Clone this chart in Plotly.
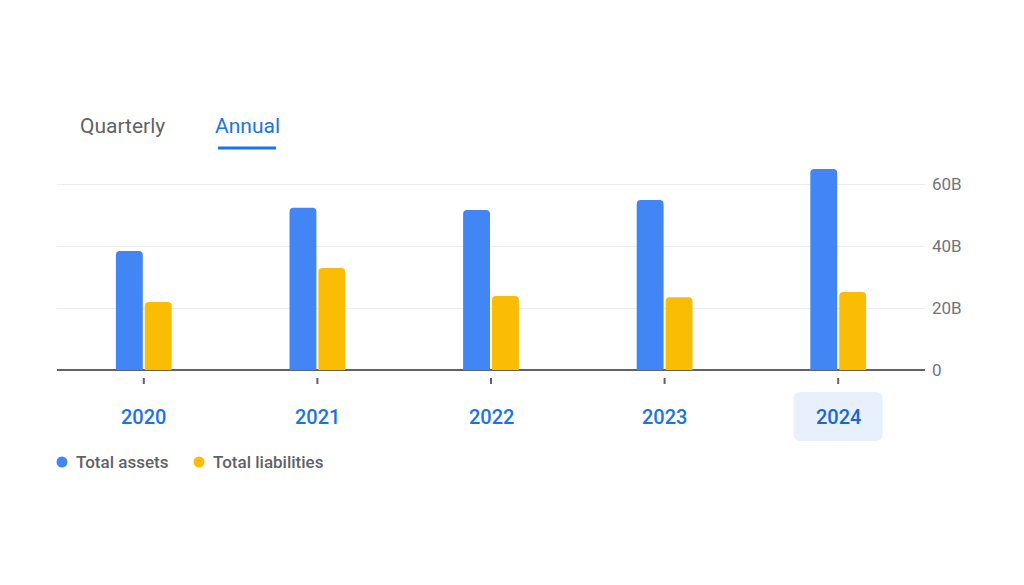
import plotly.graph_objects as go

years = ["2020", "2021", "2022", "2023", "2024"]
total_assets = [38.4, 52.3, 51.6, 54.8, 64.8]        # billions
total_liabilities = [21.9, 32.9, 23.9, 23.5, 25.2]   # billions
y_ticks = [0, 20, 40, 60]
y_tick_labels = ["0", "20B", "40B", "60B"]
series_names = ["Total assets", "Total liabilities"]
series_colors = ["#4285f4", "#fbbc04"]
selected_year = "2024"

W, H = 1024, 585
OFF = 8  # page body margin
L, T = 57 - OFF, 153 - OFF
R = W - (925 - OFF)
B = H - (370 - OFF)
PW, PH = W - L - R, H - T - B
FONT = "Roboto, Arial, sans-serif"


def py(p):  # page pixel y -> paper y
    return (H - B - (p - OFF)) / PH


def px(p):  # page pixel x -> paper x
    return (p - OFF - L) / PW


fig = go.Figure()
for name, vals, col in zip(series_names, [total_assets, total_liabilities], series_colors):
    fig.add_trace(go.Bar(x=years, y=vals, name=name, marker=dict(color=col, line=dict(width=0)),
                         showlegend=False, hovertemplate="%{x}: %{y:.1f}B<extra>" + name + "</extra>"))

shapes = []
annotations = []
n = len(years)
for i, yr in enumerate(years):
    xc = (i + 0.5) / n
    shapes.append(dict(type="line", xref="paper", yref="paper", x0=xc, x1=xc,
                       y0=py(378), y1=py(384), line=dict(color="#5f6368", width=2)))
    if yr == selected_year:
        hw = 44.5 / PW
        x0, x1 = xc - hw, xc + hw
        y0, y1 = py(441), py(392)
        rx, ry = 7 / PW, 7 / PH
        path = (f"M {x0+rx},{y0} L {x1-rx},{y0} Q {x1},{y0} {x1},{y0+ry} "
                f"L {x1},{y1-ry} Q {x1},{y1} {x1-rx},{y1} L {x0+rx},{y1} "
                f"Q {x0},{y1} {x0},{y1-ry} L {x0},{y0+ry} Q {x0},{y0} {x0+rx},{y0} Z")
        shapes.append(dict(type="path", xref="paper", yref="paper", path=path,
                           fillcolor="#e8f0fe", line=dict(width=0), layer="below"))
    annotations.append(dict(x=xc, y=py(417), xref="paper", yref="paper", text=yr, showarrow=False,
                            font=dict(family=FONT, size=20, color="#1a73e8" if yr != selected_year else "#1967d2",
                                      weight=500),
                            xanchor="center", yanchor="middle"))

# Tabs
annotations.append(dict(x=px(78), y=py(126), xref="paper", yref="paper", text="Quarterly", showarrow=False,
                        font=dict(family=FONT, size=21, color="#5f6368"), xanchor="left", yanchor="middle"))
annotations.append(dict(x=px(213), y=py(126), xref="paper", yref="paper", text="Annual", showarrow=False,
                        font=dict(family=FONT, size=21, color="#1a73e8"), xanchor="left", yanchor="middle"))
shapes.append(dict(type="line", xref="paper", yref="paper", x0=px(218), x1=px(276), y0=py(148), y1=py(148),
                   line=dict(color="#1a73e8", width=3)))

# Legend
leg_x = [62, 199]
for name, col, lx in zip(series_names, series_colors, leg_x):
    r = 5.5
    shapes.append(dict(type="circle", xref="paper", yref="paper", x0=px(lx - r), x1=px(lx + r),
                       y0=py(462 + r), y1=py(462 - r), fillcolor=col, line=dict(width=0)))
    annotations.append(dict(x=px(lx + 12), y=py(462), xref="paper", yref="paper", text=name, showarrow=False,
                            font=dict(family=FONT, size=17, color="#5f6368", weight=500),
                            xanchor="left", yanchor="middle"))

fig.update_layout(
    width=W, height=H,
    margin=dict(l=L, r=R, t=T, b=B, pad=0),
    paper_bgcolor="white", plot_bgcolor="white",
    barmode="group", bargap=0.667, bargroupgap=0.07, barcornerradius=4,
    shapes=shapes, annotations=annotations,
    xaxis=dict(type="category", range=[-0.5, n - 0.5], showticklabels=False, showgrid=False,
               zeroline=False, showline=False, ticks=""),
    yaxis=dict(side="right", range=[0, 70], tickvals=y_ticks, ticktext=y_tick_labels,
               showgrid=True, gridcolor="#eeeeee", gridwidth=1,
               zeroline=True, zerolinecolor="#5f6368", zerolinewidth=2,
               tickfont=dict(family=FONT, size=17, color="#70757a"), ticks="", ticklabelstandoff=6),
    showlegend=False,
)

fig.write_html("out.html")
